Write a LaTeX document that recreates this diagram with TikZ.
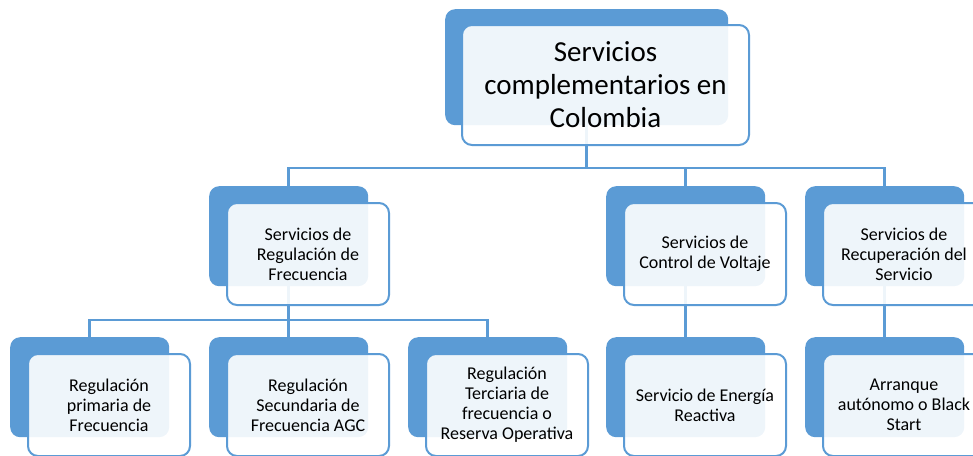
\documentclass[tikz,border=0pt]{standalone}
\usepackage{fontspec}
\setmainfont{Carlito}
\definecolor{accent}{HTML}{5B9BD5}
\tikzset{
  backbox/.style={fill=accent, rounded corners=10pt, inner sep=0pt, anchor=north west},
  frontbox/.style={draw=accent, line width=2pt, fill=white, fill opacity=0.9, text opacity=1,
    rounded corners=10pt, inner sep=0pt, align=center, anchor=north west,
    minimum width=162pt, minimum height=102pt, font=\fontsize{18}{20}\selectfont},
  link/.style={accent, line width=2.5pt}
}

\begin{document}
\begin{tikzpicture}[x=1pt,y=-1pt]
	\useasboundingbox (0,0) rectangle (973,455);
	% back boxes
	\node[backbox, minimum width=283pt, minimum height=116pt] (b0) at (445,9) {};
	\foreach \n/\x/\y in {1/209/186, 2/606/186, 3/805/186, 11/10/337, 12/209/337, 13/408/337, 21/606/337, 31/805/337}
	\node[backbox, minimum width=159pt, minimum height=100pt] (b\n) at (\x,\y) {};
	% connectors
	\coordinate (bar0) at (0,168);
	\coordinate (bar1) at (0,320);
	\draw[link] (b0.south) -- (b0.south |- bar0);
	\draw[link] (b1.north) |- (b3.north |- bar0) -- (b3.north);
	\draw[link] (b2.north) -- (b2.north |- bar0);
	\draw[link] (b1.south) -- (b1.south |- bar1);
	\draw[link] (b11.north) |- (b13.north |- bar1) -- (b13.north);
	\draw[link] (b12.north) -- (b12.north |- bar1);
	\draw[link] (b2.south) -- (b21.north);
	\draw[link] (b3.south) -- (b31.north);
	% front boxes
	\node[frontbox, minimum width=287pt, minimum height=120pt, font=\fontsize{29}{33}\selectfont] (f0) at ([shift={(16,15)}]b0.north west) {Servicios\\complementarios en\\Colombia};
	\foreach \n/\t in {1/{Servicios de\\Regulación de\\Frecuencia}, 2/{Servicios de\\Control de Voltaje}, 3/{Servicios de\\Recuperación del\\Servicio}, 11/{Regulación\\primaria de\\Frecuencia}, 12/{Regulación\\Secundaria de\\Frecuencia AGC}, 13/{Regulación\\Terciaria de\\frecuencia o\\Reserva Operativa}, 21/{Servicio de Energía\\Reactiva}, 31/{Arranque\\autónomo o Black\\Start}}
	\node[frontbox] (f\n) at ([shift={(17,16)}]b\n.north west) {\t};
\end{tikzpicture}
\end{document}
